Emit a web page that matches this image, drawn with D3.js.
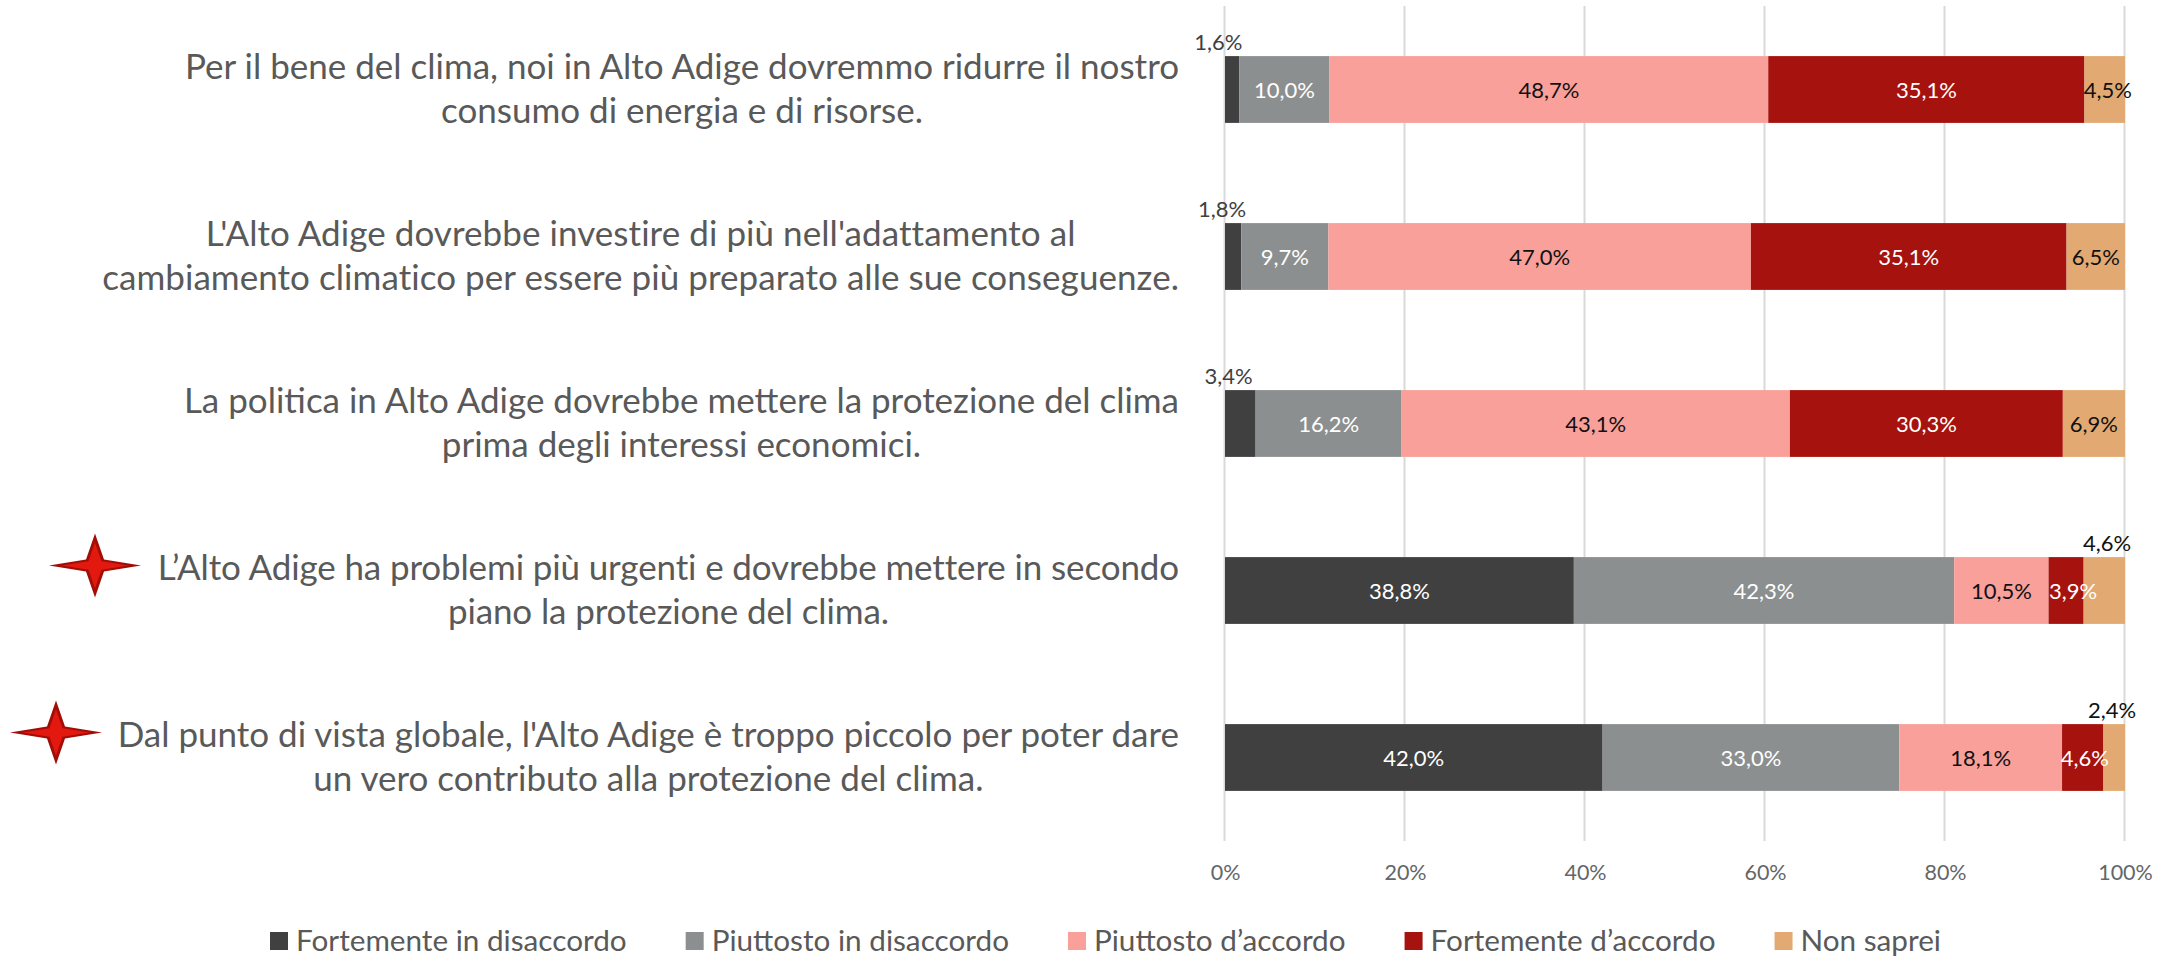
<!DOCTYPE html>
<html><head><meta charset="utf-8">
<script src="https://cdn.jsdelivr.net/npm/d3@7/dist/d3.min.js"></script>
<style>html,body{margin:0;background:#fff}svg{display:block}text{font-family:Lato,"Open Sans",sans-serif}</style>
</head><body><div id="c"></div>
<script>
const categories=["Per il bene del clima, noi in Alto Adige dovremmo ridurre il nostro\nconsumo di energia e di risorse.","L'Alto Adige dovrebbe investire di più nell'adattamento al\ncambiamento climatico per essere più preparato alle sue conseguenze.","La politica in Alto Adige dovrebbe mettere la protezione del clima\nprima degli interessi economici.","L’Alto Adige ha problemi più urgenti e dovrebbe mettere in secondo\npiano la protezione del clima.","Dal punto di vista globale, l'Alto Adige è troppo piccolo per poter dare\nun vero contributo alla protezione del clima."];
const seriesNames=["Fortemente in disaccordo","Piuttosto in disaccordo","Piuttosto d’accordo","Fortemente d’accordo","Non saprei"];
const fortementeDisaccordo=[1.6,1.8,3.4,38.8,42.0];
const piuttostoDisaccordo=[10.0,9.7,16.2,42.3,33.0];
const piuttostoAccordo=[48.7,47.0,43.1,10.5,18.1];
const fortementeAccordo=[35.1,35.1,30.3,3.9,4.6];
const nonSaprei=[4.5,6.5,6.9,4.6,2.4];
const colors=["#404040","#8c8f8f","#f9a09b","#a6120d","#e2aa72"];
const ticks=[0,20,40,60,80,100];
const starred=[3,4];

const W=2167,H=959,x0=1225,x1=2125,plotTop=6,plotBot=841;
const svg=d3.select("#c").append("svg").attr("width",W).attr("height",H);
const x=d3.scaleLinear().domain([0,1]).range([x0,x1]);
const y=d3.scaleBand().domain(d3.range(5)).range([plotTop,plotBot]).paddingInner(0.6).paddingOuter(0.3);
const fmt=v=>d3.format(".1f")(v).replace(".",",")+"%";
const rows=categories.map((c,i)=>({i,s0:fortementeDisaccordo[i],s1:piuttostoDisaccordo[i],s2:piuttostoAccordo[i],s3:fortementeAccordo[i],s4:nonSaprei[i]}));
const keys=["s0","s1","s2","s3","s4"];
const stack=d3.stack().keys(keys).offset(d3.stackOffsetExpand)(rows);

const ax=svg.append("g").attr("transform",`translate(0,${plotBot})`)
 .call(d3.axisBottom(x).tickValues(ticks.map(t=>t/100)).tickSize(0).tickPadding(0).tickFormat(d=>Math.round(d*100)+"%"));
ax.select(".domain").remove();
ax.selectAll("line").attr("y2",-(plotBot-plotTop)).attr("stroke","#d9d9d9").attr("stroke-width",2).attr("transform","translate(-1,0)");
ax.selectAll("text").attr("y",39).attr("dy",0).attr("font-size",21.5).attr("fill","#666");

stack.forEach((ser,k)=>{
 svg.append("g").selectAll("rect").data(ser).join("rect")
  .attr("x",d=>x(d[0])).attr("width",d=>x(d[1])-x(d[0]))
  .attr("y",d=>y(d.data.i)).attr("height",y.bandwidth()).attr("fill",colors[k]);
});

// data labels
const labelStyle=(k,i)=>{
 if(k===0&&i<3)return{fill:"#404040",out:true,dx:[-21,-19,-27][i]};
 if(k===4&&i>=3)return{fill:"#111",out:true,dx:i===3?-18:-13};
 if(k===3&&i>=3)return{fill:"#fff",dx:i===3?7:2};
 if(k===4&&i===0)return{fill:"#111",dx:3};
 if(k===1||k===3||k===0)return{fill:"#fff",dx:0};
 return{fill:"#111",dx:0};
};
const allSeries=[fortementeDisaccordo,piuttostoDisaccordo,piuttostoAccordo,fortementeAccordo,nonSaprei];
stack.forEach((ser,k)=>{
 ser.forEach(d=>{
  const i=d.data.i,s=labelStyle(k,i),v=allSeries[k][i];
  const cx=s.out?x(d[1]):(x(d[0])+x(d[1]))/2;
  const cy=s.out?y(i)-14:y(i)+y.bandwidth()/2+1;
  svg.append("text").attr("x",cx+s.dx).attr("y",cy).attr("dy","0.36em").attr("text-anchor","middle")
   .attr("font-size",22).attr("fill",s.fill).text(fmt(v));
 });
});

// category labels
const tracking=[0,0.06,0,-0.125,0];
const catG=svg.append("g");
categories.forEach((c,i)=>{
 const g=catG.append("g");
 const ls=c.split("\n");
 const ts=ls.map((l,j)=>g.append("text").attr("font-size",35).attr("letter-spacing",tracking[i]).attr("fill","#595959").attr("y",y(i)+y.bandwidth()/2-11+44*j).text(l));
 const mw=d3.max(ts,t=>t.node().getComputedTextLength());
 ts.forEach(t=>t.attr("x",1179-mw/2).attr("text-anchor","middle"));
});

// stars
const arm=[[46,0],[9,-6],[0,-32],[-9,-6],[-46,0],[-9,6],[0,32],[9,6]];
const starPath=f=>d3.line()(arm.map(p=>[p[0]*f,p[1]*f]))+"Z";
const starPos={3:95,4:56};
starred.forEach(i=>{
 const g=svg.append("g").attr("transform",`translate(${starPos[i]},${y(i)+y.bandwidth()/2-25})`);
 g.append("path").attr("d",starPath(1)).attr("fill","#a30d08");
 g.append("path").attr("d",starPath(0.72)).attr("fill","#e3190f");
});

// legend
let lx=270;
seriesNames.forEach((n,k)=>{
 const g=svg.append("g");
 g.append("rect").attr("x",lx).attr("y",932).attr("width",18).attr("height",18).attr("fill",colors[k]);
 const t=g.append("text").attr("x",lx+26).attr("y",951).attr("font-size",29.7).attr("fill","#595959").text(n);
 lx+=26+t.node().getComputedTextLength()+59;
});
</script></body></html>
